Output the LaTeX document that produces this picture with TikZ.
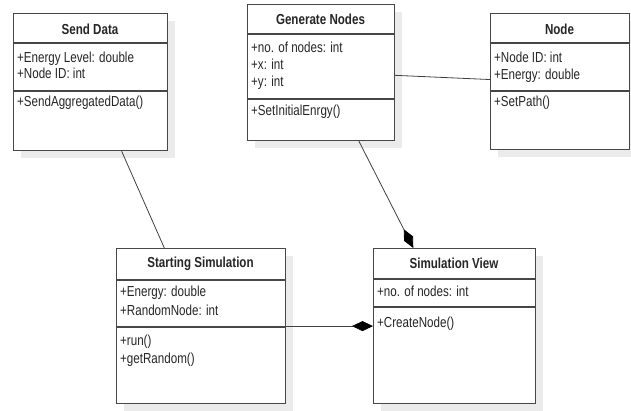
\documentclass[tikz,border=0pt]{standalone}
\usepackage{fontspec}
\setmainfont{Liberation Sans}[FakeStretch=0.80]
\usetikzlibrary{arrows.meta,shadows,calc}
\begin{document}
\begin{tikzpicture}[x=1pt,y=-1pt,
 cls/.style={draw=black!72, line width=1.2pt, fill=white, rectangle, inner sep=0pt, anchor=north west,
   drop shadow={shadow xshift=7pt, shadow yshift=-7pt, fill=black!8, opacity=1}},
 sep/.style={draw=black!72, line width=1.2pt},
 ttl/.style={font=\fontsize{14.5}{16}\selectfont\bfseries, text=black!85, anchor=base, inner sep=0pt},
 txt/.style={font=\fontsize{14.5}{16}\selectfont, text=black!85, anchor=base west, inner sep=0pt},
 conn/.style={draw=black!75, line width=0.8pt},
 comp/.style={conn, -{Diamond[length=21pt,width=10pt,color=black,fill=black]}}
]
\useasboundingbox (0,0) rectangle (631,411);

% Send Data
\node[cls, minimum width=154pt, minimum height=137pt] (sd) at (13,13) {};
\draw[sep] ([yshift=-30pt]sd.north west) -- ([yshift=-30pt]sd.north east);
\draw[sep] ([yshift=-78pt]sd.north west) -- ([yshift=-78pt]sd.north east);
\node[ttl] (sdt) at (90,35) {Send Data};
\node[txt] (sda1) at (17,63) {+Energy Level: double};
\node[txt] (sda2) at (17,79) {+Node ID: int};
\node[txt] (sdm1) at (17,107) {+SendAggregatedData()};

% Generate Nodes
\node[cls, minimum width=147pt, minimum height=136pt] (gn) at (247,4) {};
\draw[sep] ([yshift=-30pt]gn.north west) -- ([yshift=-30pt]gn.north east);
\draw[sep] ([yshift=-95pt]gn.north west) -- ([yshift=-95pt]gn.north east);
\node[ttl] (gnt) at (320.5,25) {Generate Nodes};
\node[txt] (gna1) at (251,53) {+no. of nodes: int};
\node[txt] (gna2) at (251,70) {+x: int};
\node[txt] (gna3) at (251,87) {+y: int};
\node[txt] (gnm1) at (251,116) {+SetInitialEnrgy()};

% Node
\node[cls, minimum width=139pt, minimum height=136pt] (nd) at (490,13) {};
\draw[sep] ([yshift=-30pt]nd.north west) -- ([yshift=-30pt]nd.north east);
\draw[sep] ([yshift=-78pt]nd.north west) -- ([yshift=-78pt]nd.north east);
\node[ttl] (ndt) at (559.5,35) {Node};
\node[txt] (nda1) at (494,63) {+Node ID: int};
\node[txt] (nda2) at (494,80) {+Energy: double};
\node[txt] (ndm1) at (494,107) {+SetPath()};

% Starting Simulation
\node[cls, minimum width=169pt, minimum height=155pt] (ss) at (116,248) {};
\draw[sep] ([yshift=-32pt]ss.north west) -- ([yshift=-32pt]ss.north east);
\draw[sep] ([yshift=-79pt]ss.north west) -- ([yshift=-79pt]ss.north east);
\node[ttl] (sst) at (200.5,268) {Starting Simulation};
\node[txt] (ssa1) at (120,297) {+Energy: double};
\node[txt] (ssa2) at (120,315) {+RandomNode: int};
\node[txt] (ssm1) at (120,345) {+run()};
\node[txt] (ssm2) at (120,363) {+getRandom()};

% Simulation View
\node[cls, minimum width=162pt, minimum height=155pt] (sv) at (373,248) {};
\draw[sep] ([yshift=-31pt]sv.north west) -- ([yshift=-31pt]sv.north east);
\draw[sep] ([yshift=-59pt]sv.north west) -- ([yshift=-59pt]sv.north east);
\node[ttl] (svt) at (454,269) {Simulation View};
\node[txt] (sva1) at (377,297) {+no. of nodes: int};
\node[txt] (svm1) at (377,327) {+CreateNode()};

% connectors
\draw[conn] ($(sd.south west)!0.70!(sd.south east)$) -- ($(ss.north west)!0.284!(ss.north east)$);
\draw[conn] ($(gn.north east)!0.52!(gn.south east)$) -- ($(nd.north west)!0.485!(nd.south west)$);
\draw[comp] ($(gn.south west)!0.755!(gn.south east)$) -- ($(sv.north west)!0.247!(sv.north east)$);
\draw[comp] (ss.east) -- (sv.west);
\end{tikzpicture}
\end{document}
